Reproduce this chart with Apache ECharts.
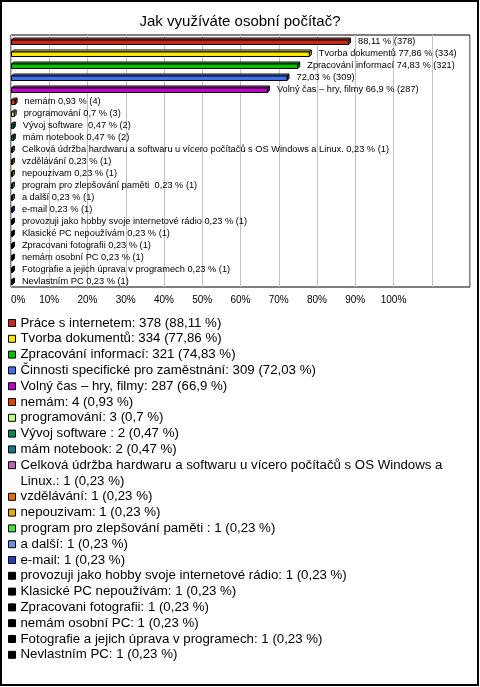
<!DOCTYPE html>
<html><head><meta charset="utf-8">
<script src="https://cdn.jsdelivr.net/npm/echarts@6/dist/echarts.min.js"></script>
<style>html,body{margin:0;padding:0;background:#fff}#c{width:480px;height:687px}</style>
</head><body><div id="c"></div>
<script>
const titleText = 'Jak využíváte osobní počítač?';
const categories = [
  'Práce s internetem',
  'Tvorba dokumentů',
  'Zpracování informací',
  'Činnosti specifické pro zaměstnání',
  'Volný čas – hry, filmy',
  'nemám',
  'programování',
  'Vývoj software ',
  'mám notebook',
  'Celková údržba hardwaru a softwaru u vícero počítačů s OS Windows a Linux.',
  'vzdělávání',
  'nepouzivam',
  'program pro zlepšování paměti ',
  'a další',
  'e-mail',
  'provozuji jako hobby svoje internetové rádio',
  'Klasické PC nepoužívám',
  'Zpracovani fotografii',
  'nemám osobní PC',
  'Fotografie a jejich úprava v programech',
  'Nevlastním PC'
];
const counts = [378, 334, 321, 309, 287, 4, 3, 2, 2, 1, 1, 1, 1, 1, 1, 1, 1, 1, 1, 1, 1];
const percents = [88.11, 77.86, 74.83, 72.03, 66.9, 0.93, 0.7, 0.47, 0.47, 0.23, 0.23, 0.23, 0.23, 0.23, 0.23, 0.23, 0.23, 0.23, 0.23, 0.23, 0.23];
// names printed next to the bars (the original omits some)
const barLabelNames = [
  '', 'Tvorba dokumentů', 'Zpracování informací', '', 'Volný čas – hry, filmy',
  'nemám', 'programování', 'Vývoj software ', 'mám notebook',
  'Celková údržba hardwaru a softwaru u vícero počítačů s OS Windows a Linux.',
  'vzdělávání', 'nepouzivam', 'program pro zlepšování paměti ', 'a další', 'e-mail',
  'provozuji jako hobby svoje internetové rádio', 'Klasické PC nepoužívám',
  'Zpracovani fotografii', 'nemám osobní PC', 'Fotografie a jejich úprava v programech', 'Nevlastním PC'
];
const colors = [
  '#c8281a', '#ffe600', '#00c000', '#3f6fee', '#c000c8',
  '#e04000', '#c4ff80', '#008c50', '#10788c', '#c060c0',
  '#e07000', '#e0b000', '#40e040', '#6a94e0', '#2040c0',
  '#000000', '#000000', '#000000', '#000000', '#000000', '#000000'
];
const xTickLabels = ['0%', '10%', '20%', '30%', '40%', '50%', '60%', '70%', '80%', '90%', '100%'];

const FONT = '"Liberation Sans", Arial, sans-serif';
const LEGEND_FONT_SIZE = 13.25;
const fmtPct = p => String(p).replace('.', ',');

function shade(hex, f) {
  const n = parseInt(hex.slice(1), 16);
  let r = (n >> 16) & 255, g = (n >> 8) & 255, b = n & 255;
  const m = c => f >= 0 ? Math.round(c + (255 - c) * f) : Math.round(c * (1 + f));
  return 'rgb(' + m(r) + ',' + m(g) + ',' + m(b) + ')';
}

// word wrap using canvas text measurement
const measureCtx = document.createElement('canvas').getContext('2d');
function wrapWords(text, maxW, font) {
  measureCtx.font = font;
  const words = text.split(' ');
  const lines = [];
  let cur = '';
  for (const w of words) {
    const t = cur ? cur + ' ' + w : w;
    if (cur && measureCtx.measureText(t).width > maxW) { lines.push(cur); cur = w; }
    else cur = t;
  }
  lines.push(cur);
  return lines;
}

function renderBox(params, api) {
  const i = params.seriesIndex;
  const v = api.value(0), idx = api.value(1);
  const a = api.coord([0, idx]), b = api.coord([v, idx]);
  const d = 2, h = 4.5;
  const yc = a[1];
  const x0 = a[0] + 0.5, x1 = b[0] + 0.5;
  const yf = yc - 1;
  const col = colors[i];
  const lbl = (barLabelNames[i] ? barLabelNames[i] + ' ' : '') + fmtPct(percents[i]) + ' % (' + counts[i] + ')';
  return {
    type: 'group',
    children: [
      { type: 'polygon', shape: { points: [[x1, yf], [x1 + d, yf - d], [x1 + d, yf - d + h], [x1, yf + h]] },
        style: { fill: shade(col, -0.3), stroke: '#000', lineWidth: 1 } },
      { type: 'polygon', shape: { points: [[x0, yf], [x0 + d, yf - d], [x1 + d, yf - d], [x1, yf]] },
        style: { fill: shade(col, 0.25), stroke: '#000', lineWidth: 1 } },
      { type: 'rect', shape: { x: x0, y: yf, width: Math.max(x1 - x0, 0), height: h },
        style: { fill: col, stroke: '#000', lineWidth: 1 } },
      { type: 'text', x: b[0] + 10, y: yc,
        style: { text: lbl, fill: '#000', fontSize: 9.25, fontFamily: FONT, align: 'left', verticalAlign: 'middle' } }
    ]
  };
}

const series = categories.map((name, i) => ({
  type: 'custom',
  name: name,
  coordinateSystem: 'cartesian2d',
  itemStyle: { color: colors[i] },
  encode: { x: 0, y: 1 },
  data: [[percents[i], i]],
  renderItem: renderBox,
  silent: true
}));

const legendText = name => {
  const i = categories.indexOf(name);
  return name + ': ' + counts[i] + ' (' + fmtPct(percents[i]) + ' %)';
};
const legendBase = {
  orient: 'vertical',
  left: 8,
  padding: 0,
  itemGap: 0,
  itemWidth: 7,
  itemHeight: 7,
  icon: 'rect',
  selectedMode: false,
  itemStyle: { borderColor: '#000', borderWidth: 1 },
  textStyle: { fontSize: LEGEND_FONT_SIZE, fontFamily: FONT, color: '#000', lineHeight: 15.8 },
  formatter: legendText
};
const legendItems = (from, to) => categories.slice(from, to).map((n, k) => ({ name: n, itemStyle: { color: colors[from + k] } }));

const chart = echarts.init(document.getElementById('c'), null, { renderer: 'canvas' });
chart.setOption({
  animation: false,
  backgroundColor: '#fff',
  title: {
    text: titleText, left: 'center', top: 14, padding: 0,
    textStyle: { fontSize: 15, fontWeight: 'normal', color: '#000', fontFamily: FONT }
  },
  graphic: [{ type: 'rect', shape: { x: 1, y: 1, width: 477, height: 684 }, style: { fill: 'none', stroke: '#000', lineWidth: 2 }, silent: true }],
  grid: { left: 11, right: 10, top: 35, bottom: 400, show: true, borderColor: '#000', borderWidth: 1, backgroundColor: 'transparent' },
  xAxis: {
    type: 'value', min: 0, max: 120, interval: 10,
    axisLine: { show: false }, axisTick: { show: false },
    splitLine: { show: true, lineStyle: { color: '#c0c0c0', width: 1 } },
    axisLabel: { margin: 8, fontSize: 10, fontFamily: FONT, color: '#000', alignMinLabel: 'left',
      formatter: v => xTickLabels[Math.round(v / 10)] || '' }
  },
  yAxis: {
    type: 'category', data: categories, inverse: true,
    axisLine: { show: false }, axisTick: { show: false }, axisLabel: { show: false }, splitLine: { show: false }
  },
  legend: [
    Object.assign({}, legendBase, { top: 315.1, data: legendItems(0, 9) }),
    Object.assign({}, legendBase, { top: 441.5, data: legendItems(9, 10),
      formatter: name => '\n' + wrapWords(legendText(name), 432, LEGEND_FONT_SIZE + 'px ' + FONT).join('\n') }),
    Object.assign({}, legendBase, { top: 488.9, data: legendItems(10, 21) })
  ],
  series: series
});
</script>
</body></html>
